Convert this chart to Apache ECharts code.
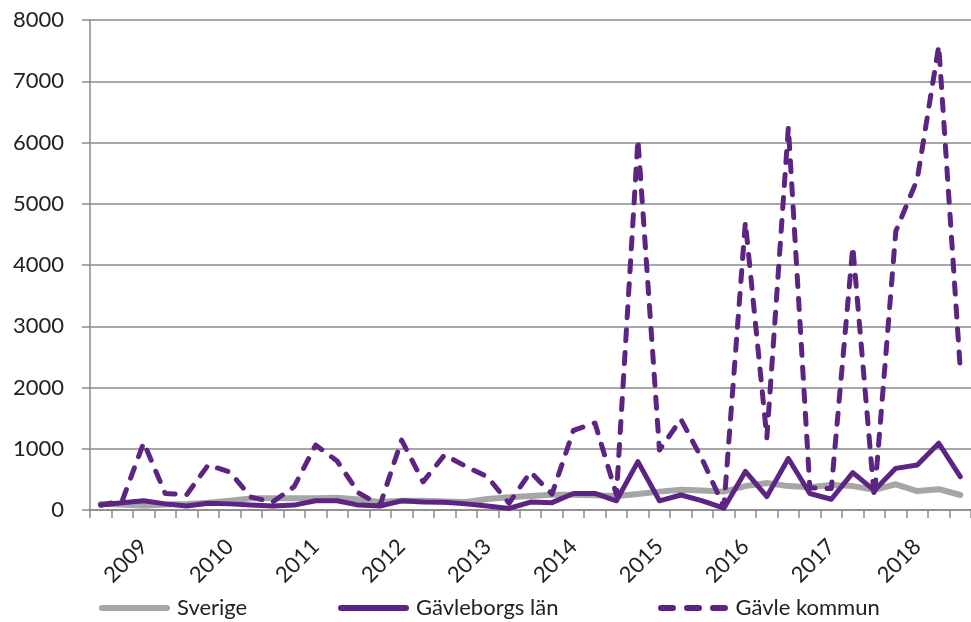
<!DOCTYPE html>
<html>
<head>
<meta charset="utf-8">
<script src="https://cdn.jsdelivr.net/npm/echarts@6/dist/echarts.min.js"></script>
<style>
html,body{margin:0;padding:0;background:#fff;}
#chart{width:971px;height:622px;}
</style>
</head>
<body>
<div id="chart"></div>
<script>
// Quarterly categories (2008 Q3 – 2018 Q3)
const categories = [
  '2008 Q3','2008 Q4',
  '2009 Q1','2009 Q2','2009 Q3','2009 Q4',
  '2010 Q1','2010 Q2','2010 Q3','2010 Q4',
  '2011 Q1','2011 Q2','2011 Q3','2011 Q4',
  '2012 Q1','2012 Q2','2012 Q3','2012 Q4',
  '2013 Q1','2013 Q2','2013 Q3','2013 Q4',
  '2014 Q1','2014 Q2','2014 Q3','2014 Q4',
  '2015 Q1','2015 Q2','2015 Q3','2015 Q4',
  '2016 Q1','2016 Q2','2016 Q3','2016 Q4',
  '2017 Q1','2017 Q2','2017 Q3','2017 Q4',
  '2018 Q1','2018 Q2','2018 Q3'
];

const sverige = [100, 90, 70, 90, 100, 120, 150, 190, 190, 190,
                 190, 200, 170, 130, 150, 150, 140, 130, 180, 210,
                 230, 250, 250, 240, 230, 260, 300, 330, 320, 300,
                 390, 440, 390, 370, 410, 390, 330, 420, 310, 340,
                 245];

const gavleborgsLan = [80, 120, 150, 100, 65, 110, 100, 80, 65, 80,
                       150, 150, 80, 65, 150, 130, 125, 100, 65, 25,
                       130, 120, 270, 270, 150, 790, 150, 245, 150, 30,
                       630, 220, 840, 270, 175, 610, 320, 680, 735, 1090,
                       545];

const gavleKommun = [80, 150, 1100, 270, 250, 735, 620, 210, 130, 380,
                     1060, 800, 280, 80, 1140, 460, 900, 710, 540, 110,
                     620, 260, 1300, 1420, 250, 6050, 980, 1480, 820, 50,
                     4700, 1180, 6250, 360, 350, 4300, 200, 4550, 5400, 7580,
                     2300];

const yTicks = [0, 1000, 2000, 3000, 4000, 5000, 6000, 7000, 8000];
const seriesNames = ['Sverige', 'Gävleborgs län', 'Gävle kommun'];

const purple = '#5c2483';
const grey = '#a6a6a6';
const axisGrey = '#8a8a8a';
const font = 'Lato, "Open Sans", "DejaVu Sans", sans-serif';

const solidIcon = 'path://M3,0 L68,0 A3,3 0 0 1 68,6 L3,6 A3,3 0 0 1 3,0 Z';
const dashIcon = 'path://M3,0 L15,0 A3,3 0 0 1 15,6 L3,6 A3,3 0 0 1 3,0 Z ' +
                 'M29,0 L41,0 A3,3 0 0 1 41,6 L29,6 A3,3 0 0 1 29,0 Z ' +
                 'M55,0 L67,0 A3,3 0 0 1 67,6 L55,6 A3,3 0 0 1 55,0 Z';

const chart = echarts.init(document.getElementById('chart'), null, {renderer: 'canvas'});

function legendFor(name, left, icon, h) {
  return {
    data: [{name: name, icon: icon}],
    left: left,
    top: 597,
    padding: 0,
    itemWidth: 71,
    itemHeight: h,
    textStyle: {fontSize: 22, fontFamily: font, color: '#222', padding: [0, 0, 0, 2]}
  };
}

chart.setOption({
  animation: false,
  backgroundColor: '#fff',
  grid: {left: 90, top: 20, width: 886, height: 490, containLabel: false},
  legend: [
    legendFor(seriesNames[0], 99, solidIcon, 6),
    legendFor(seriesNames[1], 338, solidIcon, 6),
    legendFor(seriesNames[2], 658, dashIcon, 6)
  ],
  xAxis: {
    type: 'category',
    data: categories,
    boundaryGap: true,
    axisLine: {show: true, lineStyle: {color: axisGrey, width: 1.5}},
    axisTick: {show: true, interval: 0, length: 8, lineStyle: {color: axisGrey, width: 1.5}},
    axisLabel: {
      interval: function (index, value) { return value.slice(5) === 'Q1'; },
      formatter: function (value) { return value.slice(0, 4); },
      rotate: 45,
      margin: 33,
      fontSize: 22,
      fontFamily: font,
      color: '#222'
    },
    splitLine: {show: false}
  },
  yAxis: {
    type: 'value',
    min: yTicks[0],
    max: yTicks[yTicks.length - 1],
    interval: yTicks[1] - yTicks[0],
    axisLine: {show: true, lineStyle: {color: axisGrey, width: 1.5}},
    axisTick: {show: true, length: 8, lineStyle: {color: axisGrey, width: 1.5}},
    axisLabel: {
      margin: 26, fontSize: 22, fontFamily: font, color: '#222',
      formatter: function (v) { return String(v); }
    },
    splitLine: {show: true, lineStyle: {color: axisGrey, width: 1.5}}
  },
  series: [
    {
      name: seriesNames[0],
      type: 'line',
      data: sverige,
      symbol: 'none',
      smooth: false,
      lineStyle: {color: grey, width: 6, cap: 'round', join: 'round'},
      itemStyle: {color: grey}
    },
    {
      name: seriesNames[1],
      type: 'line',
      data: gavleborgsLan,
      symbol: 'none',
      lineStyle: {color: purple, width: 5, cap: 'round', join: 'round'},
      itemStyle: {color: purple}
    },
    {
      name: seriesNames[2],
      type: 'line',
      data: gavleKommun,
      symbol: 'none',
      lineStyle: {color: purple, width: 5, type: [11, 12], cap: 'round', join: 'round'},
      itemStyle: {color: purple}
    }
  ]
});
</script>
</body>
</html>
